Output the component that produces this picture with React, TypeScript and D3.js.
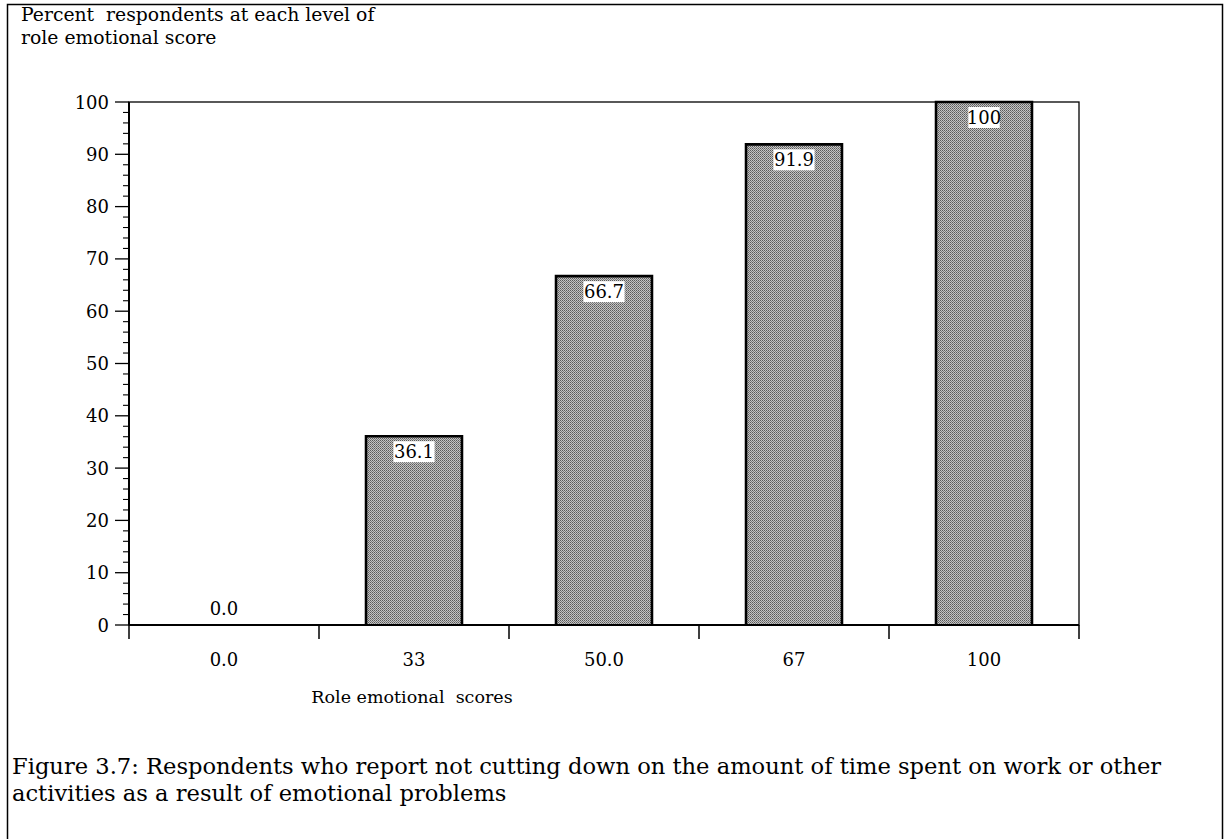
import React from "react";
import * as d3 from "d3";

const categories = ["0.0", "33", "50.0", "67", "100"];
const values = [0, 36.1, 66.7, 91.9, 100];
const valueLabels = ["0.0", "36.1", "66.7", "91.9", "100"];
const yTicks = [0, 10, 20, 30, 40, 50, 60, 70, 80, 90, 100];
const yMinorTicks = d3.range(0, 101, 2).filter((v) => v % 10 !== 0);

const titleLines = ["Percent  respondents at each level of", "role emotional score"];
const xTitle = "Role emotional  scores";
const captionLines = [
  "Figure 3.7: Respondents who report not cutting down on the amount of time spent on work or other",
  "activities as a result of emotional problems",
];

const W = 1225;
const H = 839;
const FONT = "'DejaVu Serif', 'Liberation Serif', serif";

export default function App() {
  const left = 129;
  const right = 1079;
  const top = 102;
  const bottom = 625;

  const x = d3.scaleBand<string>().domain(categories).range([left, right]).padding(0);
  const y = d3.scaleLinear().domain([0, 100]).range([bottom, top]);
  const barW = x.bandwidth() * 0.505;
  const edges = [...categories.map((c) => x(c) as number), right];

  return (
    <div style={{ position: "absolute", left: 0, top: 0 }}>
      <svg width={W} height={H} style={{ display: "block", background: "#fff" }}>
        <defs>
          <pattern id="hatch" patternUnits="userSpaceOnUse" width="2" height="2">
            <rect width="2" height="2" fill="#c4c4c4" />
            <rect x="0" y="0" width="1" height="1" fill="#5a5a5a" />
            <rect x="1" y="1" width="1" height="1" fill="#7a7a7a" />
          </pattern>
        </defs>

        {/* outer frame */}
        <path d={`M7.5,${H + 5} V4.5 H1222.5 V${H + 5}`} fill="none" stroke="#000" strokeWidth={1.5} />

        {/* title */}
        <g fontFamily={FONT} fontSize={18.8} fill="#000">
          {titleLines.map((t, i) => (
            <text key={i} x={21} y={21 + i * 23} style={{ whiteSpace: "pre" }}>
              {t}
            </text>
          ))}
        </g>

        {/* plot box */}
        <rect x={left} y={top} width={right - left} height={bottom - top} fill="#fff" stroke="#000" strokeWidth={1.3} />

        {/* bars */}
        {categories.map((c, i) => {
          const v = values[i];
          if (v <= 0) return null;
          const bx = (x(c) as number) + (x.bandwidth() - barW) / 2;
          const by = y(v);
          return (
            <g key={c}>
              <rect x={bx} y={by} width={barW} height={bottom - by} fill="url(#hatch)" />
              <path
                d={`M${bx},${bottom} V${by} H${bx + barW} V${bottom}`}
                fill="none"
                stroke="#000"
                strokeWidth={2.6}
              />
            </g>
          );
        })}

        {/* value labels */}
        <g fontFamily={FONT} fontSize={18} fill="#000" textAnchor="middle">
          {categories.map((c, i) => {
            const v = values[i];
            const cx = (x(c) as number) + x.bandwidth() / 2;
            if (v <= 0) {
              return (
                <text key={c} x={cx} y={bottom - 10}>
                  {valueLabels[i]}
                </text>
              );
            }
            const by = y(v);
            const bw = valueLabels[i].length * 9.8 + 2;
            return (
              <g key={c}>
                <rect x={cx - bw / 2} y={by + 5} width={bw} height={21} fill="#fff" />
                <text x={cx} y={by + 22}>
                  {valueLabels[i]}
                </text>
              </g>
            );
          })}
        </g>

        {/* y axis */}
        <line x1={left} x2={left} y1={top} y2={bottom} stroke="#000" strokeWidth={2} />
        {yTicks.map((t) => (
          <line key={t} x1={left - 14} x2={left} y1={y(t)} y2={y(t)} stroke="#000" strokeWidth={1.3} />
        ))}
        {yMinorTicks.map((t) => (
          <line key={t} x1={left - 6} x2={left} y1={y(t)} y2={y(t)} stroke="#000" strokeWidth={1.1} />
        ))}
        <g fontFamily={FONT} fontSize={18} fill="#000" textAnchor="end">
          {yTicks.map((t) => (
            <text key={t} x={left - 20} y={y(t) + 6.5}>
              {t}
            </text>
          ))}
        </g>

        {/* x axis */}
        <line x1={left} x2={right} y1={bottom} y2={bottom} stroke="#000" strokeWidth={2} />
        {edges.map((e, i) => (
          <line key={i} x1={e} x2={e} y1={bottom} y2={bottom + 14} stroke="#000" strokeWidth={1.5} />
        ))}
        <g fontFamily={FONT} fontSize={18} fill="#000" textAnchor="middle">
          {categories.map((c) => (
            <text key={c} x={(x(c) as number) + x.bandwidth() / 2} y={bottom + 41}>
              {c}
            </text>
          ))}
        </g>
        <text
          x={412}
          y={bottom + 78}
          fontFamily={FONT}
          fontSize={17.5}
          textAnchor="middle"
          style={{ whiteSpace: "pre" }}
        >
          {xTitle}
        </text>

        {/* caption */}
        <g fontFamily={FONT} fontSize={22.6} fill="#000">
          {captionLines.map((t, i) => (
            <text key={i} x={12} y={774 + i * 27}>
              {t}
            </text>
          ))}
        </g>
      </svg>
    </div>
  );
}
